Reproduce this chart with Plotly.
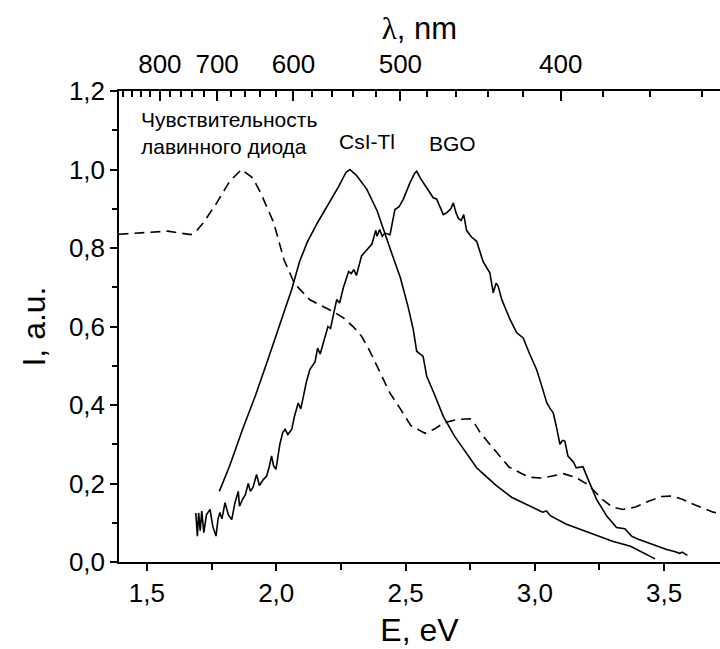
import plotly.graph_objects as go

# ---------------- data ----------------
# APD sensitivity (dashed)
apd_E = [1.39, 1.45, 1.50, 1.58, 1.63, 1.67, 1.69, 1.72, 1.77, 1.82, 1.866, 1.91, 1.94, 1.99, 2.03, 2.07,
         2.13, 2.18, 2.22, 2.26, 2.30, 2.33, 2.36, 2.40, 2.44, 2.48, 2.52, 2.575, 2.61, 2.65, 2.70, 2.75,
         2.77, 2.79, 2.85, 2.90, 2.95, 2.98, 3.03, 3.07, 3.11, 3.16, 3.21, 3.26, 3.30, 3.34, 3.39, 3.44,
         3.49, 3.53, 3.57, 3.62, 3.66, 3.69, 3.72]
apd_I = [0.835, 0.838, 0.840, 0.843, 0.838, 0.834, 0.842, 0.866, 0.915, 0.97, 1.0, 0.978, 0.94, 0.865, 0.77, 0.71,
         0.668, 0.652, 0.638, 0.622, 0.598, 0.575, 0.54, 0.485, 0.43, 0.39, 0.348, 0.328, 0.338, 0.355, 0.363, 0.365,
         0.35, 0.328, 0.28, 0.242, 0.225, 0.216, 0.214, 0.22, 0.225, 0.215, 0.195, 0.16, 0.14, 0.134, 0.14, 0.155,
         0.167, 0.168, 0.16, 0.145, 0.135, 0.127, 0.122]

# CsI-Tl emission
csi_E = [1.78, 1.82, 1.87, 1.92, 1.97, 2.02, 2.06, 2.09, 2.12, 2.16, 2.20, 2.24, 2.27, 2.285, 2.31, 2.35,
         2.39, 2.42, 2.45, 2.48, 2.51, 2.53, 2.543, 2.568, 2.582, 2.61, 2.646, 2.69, 2.736, 2.775, 2.79,
         2.85, 2.91, 2.97, 3.03, 3.045, 3.06, 3.12, 3.21, 3.30, 3.37, 3.43, 3.465]
csi_I = [0.18, 0.245, 0.338, 0.425, 0.52, 0.615, 0.695, 0.765, 0.815, 0.865, 0.91, 0.955, 0.993, 1.0, 0.985, 0.95,
         0.895, 0.84, 0.78, 0.724, 0.65, 0.592, 0.537, 0.524, 0.473, 0.43, 0.371, 0.32, 0.278, 0.24, 0.231,
         0.195, 0.165, 0.145, 0.127, 0.13, 0.118, 0.097, 0.075, 0.053, 0.04, 0.02, 0.008]

# BGO emission
bgo_E = [1.689, 1.695, 1.700, 1.706, 1.712, 1.720, 1.730, 1.744, 1.755, 1.767, 1.775, 1.782, 1.790, 1.802,
         1.815, 1.828, 1.840, 1.853, 1.858, 1.870, 1.880, 1.892, 1.900, 1.910, 1.924, 1.935, 1.950, 1.963,
         1.972, 1.982, 1.990, 1.999, 2.014, 2.025, 2.034, 2.045, 2.060, 2.070, 2.085, 2.095, 2.117, 2.130,
         2.150, 2.160, 2.170, 2.182, 2.200, 2.210, 2.234, 2.245, 2.260, 2.280, 2.290, 2.300, 2.310, 2.330,
         2.350, 2.370, 2.385, 2.390, 2.400, 2.410, 2.420, 2.440, 2.459, 2.475, 2.491, 2.517, 2.535, 2.543,
         2.560, 2.580, 2.590, 2.607, 2.620, 2.635, 2.646, 2.660, 2.675, 2.685, 2.695, 2.705, 2.715, 2.725,
         2.736, 2.755, 2.775, 2.800, 2.826, 2.839, 2.850, 2.858, 2.872, 2.890, 2.904, 2.930, 2.955, 2.980,
         3.007, 3.026, 3.046, 3.060, 3.071, 3.085, 3.097, 3.107, 3.116, 3.128, 3.149, 3.160, 3.186, 3.200,
         3.213, 3.239, 3.278, 3.300, 3.316, 3.348, 3.374, 3.400, 3.432, 3.470, 3.510, 3.540, 3.560, 3.570,
         3.590]
bgo_I = [0.125, 0.066, 0.125, 0.080, 0.130, 0.075, 0.120, 0.134, 0.090, 0.066, 0.110, 0.126, 0.110, 0.151,
         0.120, 0.108, 0.150, 0.180, 0.142, 0.160, 0.170, 0.200, 0.180, 0.190, 0.223, 0.195, 0.210, 0.219,
         0.240, 0.270, 0.245, 0.236, 0.300, 0.330, 0.338, 0.325, 0.338, 0.370, 0.405, 0.390, 0.460, 0.490,
         0.510, 0.545, 0.530, 0.558, 0.600, 0.595, 0.669, 0.660, 0.700, 0.740, 0.735, 0.745, 0.730, 0.780,
         0.796, 0.810, 0.845, 0.830, 0.847, 0.830, 0.838, 0.834, 0.898, 0.905, 0.924, 0.966, 0.990, 0.996,
         0.975, 0.955, 0.945, 0.928, 0.925, 0.900, 0.885, 0.890, 0.900, 0.915, 0.890, 0.875, 0.870, 0.885,
         0.845, 0.828, 0.817, 0.765, 0.737, 0.686, 0.710, 0.703, 0.669, 0.640, 0.618, 0.584, 0.571, 0.530,
         0.490, 0.450, 0.406, 0.390, 0.380, 0.340, 0.300, 0.310, 0.308, 0.270, 0.255, 0.240, 0.243, 0.220,
         0.200, 0.159, 0.117, 0.100, 0.088, 0.085, 0.066, 0.058, 0.050, 0.040, 0.032, 0.027, 0.022, 0.025,
         0.017]

# axis ticks
e_ticks = [1.5, 2.0, 2.5, 3.0, 3.5]
e_ticktext = ["1,5", "2,0", "2,5", "3,0", "3,5"]
i_ticks = [0.0, 0.2, 0.4, 0.6, 0.8, 1.0, 1.2]
i_ticktext = ["0,0", "0,2", "0,4", "0,6", "0,8", "1,0", "1,2"]
lam_major = [800, 700, 600, 500, 400]
lam_minor = [880, 860, 840, 820, 780, 760, 740, 720, 680, 660, 640, 620, 580, 560, 540, 520,
             480, 460, 440, 420, 380, 360, 340]
HC = 1240.0  # eV*nm

labels = ["Чувствительность<br>лавинного диода", "CsI-Tl", "BGO"]

E_RANGE = [1.392, 3.716]
FONT = "Liberation Sans, Arial, sans-serif"
TICKFONT = dict(family="Liberation Sans Narrow, Arial Narrow, Liberation Sans, Arial, sans-serif", size=26)

fig = go.Figure()
line_style = dict(color="black", width=1.6)
fig.add_trace(go.Scatter(x=apd_E, y=apd_I, mode="lines", xaxis="x2", yaxis="y",
                         line=dict(color="black", width=1.6, dash="10px,6px"), hoverinfo="skip"))
fig.add_trace(go.Scatter(x=csi_E, y=csi_I, mode="lines", line=line_style, hoverinfo="skip"))
fig.add_trace(go.Scatter(x=bgo_E, y=bgo_I, mode="lines", line=line_style, hoverinfo="skip"))

fig.update_layout(
    width=720, height=649,
    margin=dict(l=119, r=0, t=91, b=87),
    paper_bgcolor="white", plot_bgcolor="white",
    showlegend=False,
    font=dict(family=FONT, color="black", size=21),
    xaxis=dict(
        range=E_RANGE, tickmode="array", tickvals=e_ticks, ticktext=e_ticktext,
        ticks="outside", ticklen=7, tickwidth=1.5, tickcolor="black",
        showline=True, linecolor="black", linewidth=1.5, showgrid=False, zeroline=False,
        minor=dict(tickmode="linear", tick0=1.25, dtick=0.25, ticks="outside", ticklen=6,
                   tickwidth=1.5, tickcolor="black", showgrid=False),
        tickfont=TICKFONT,
        title=dict(text="E, eV", font=dict(size=32), standoff=12),
    ),
    xaxis2=dict(
        overlaying="x", side="top", range=E_RANGE,
        tickmode="array", tickvals=[HC / l for l in lam_major], ticktext=[str(l) for l in lam_major],
        ticks="inside", ticklen=10, tickwidth=1.5, tickcolor="black",
        showline=True, linecolor="black", linewidth=1.5, showgrid=False, zeroline=False,
        minor=dict(tickmode="array", tickvals=[HC / l for l in lam_minor], ticks="inside",
                   ticklen=6, tickwidth=1.5, tickcolor="black", showgrid=False),
        tickfont=TICKFONT, ticklabelstandoff=6,
        title=dict(text='<span style="font-family:Liberation Serif">λ</span>, nm',
                   font=dict(size=31), standoff=0),
    ),
    yaxis=dict(
        range=[0, 1.2], tickmode="array", tickvals=i_ticks, ticktext=i_ticktext,
        ticks="outside", ticklen=7, tickwidth=1.5, tickcolor="black",
        showline=True, linecolor="black", linewidth=1.5, showgrid=False, zeroline=False,
        minor=dict(tickmode="linear", tick0=0.1, dtick=0.2, ticks="outside", ticklen=5,
                   tickwidth=1.5, tickcolor="black", showgrid=False),
        tickfont=TICKFONT,
        title=dict(text="I, a.u.", font=dict(size=32), standoff=14),
    ),
    annotations=[
        dict(text=labels[0], x=1.469, y=1.094, xref="x", yref="y", xanchor="left", yanchor="middle",
             align="left", showarrow=False, font=dict(size=21)),
        dict(text=labels[1], x=2.352, y=1.071, xref="x", yref="y", xanchor="center", yanchor="middle",
             showarrow=False, font=dict(size=21)),
        dict(text=labels[2], x=2.681, y=1.066, xref="x", yref="y", xanchor="center", yanchor="middle",
             showarrow=False, font=dict(size=21)),
    ],
)

fig.write_html("out.html", config={"displayModeBar": False},
               post_script="document.body.style.margin='0';")
